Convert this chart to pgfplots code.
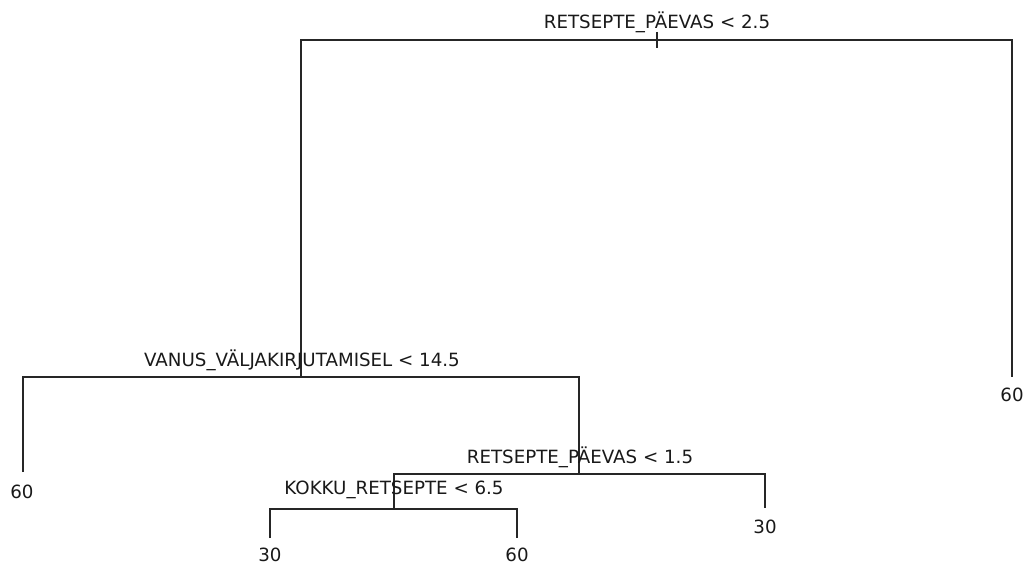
\documentclass[border=0pt]{standalone}
\usepackage{pgfplots}
\pgfplotsset{compat=1.18}
\usepackage{fontspec}
\setmainfont{DejaVu Sans}
\begin{document}
\begin{tikzpicture}
\begin{axis}[
  width=1025bp, height=564bp, scale only axis,
  xmin=0, xmax=1025, ymin=0, ymax=564, y dir=reverse,
  hide axis, clip=false,
  nodes={font=\fontsize{18.3}{22}\selectfont, inner sep=0pt, text=black!90}
]
\draw[draw=none] (axis cs:0,0) rectangle (axis cs:1025,564);
\pgfplotsset{tree/.style={draw=black!85, line width=1.3bp, mark=none}}
% root split
\addplot[tree] coordinates {(301,377) (301,40) (1012,40) (1012,377)};
\addplot[tree] coordinates {(657,32) (657,48)};
% VANUS split
\addplot[tree] coordinates {(23,472) (23,377) (579,377) (579,474)};
% RETSEPTE < 1.5 split
\addplot[tree] coordinates {(394,509) (394,474) (765,474) (765,508)};
% KOKKU split
\addplot[tree] coordinates {(270,538) (270,509) (517,509) (517,538)};
% split labels
\node at (axis cs:657,22) {RETSEPTE\_PÄEVAS < 2.5};
\node at (axis cs:302,360) {VANUS\_VÄLJAKIRJUTAMISEL < 14.5};
\node at (axis cs:580,457) {RETSEPTE\_PÄEVAS < 1.5};
\node at (axis cs:394,490) {KOKKU\_RETSEPTE < 6.5};
% leaf labels
\node at (axis cs:1012,395) {60};
\node at (axis cs:22,492) {60};
\node at (axis cs:765,527) {30};
\node at (axis cs:270,555) {30};
\node at (axis cs:517,555) {60};
\end{axis}
\end{tikzpicture}
\end{document}
